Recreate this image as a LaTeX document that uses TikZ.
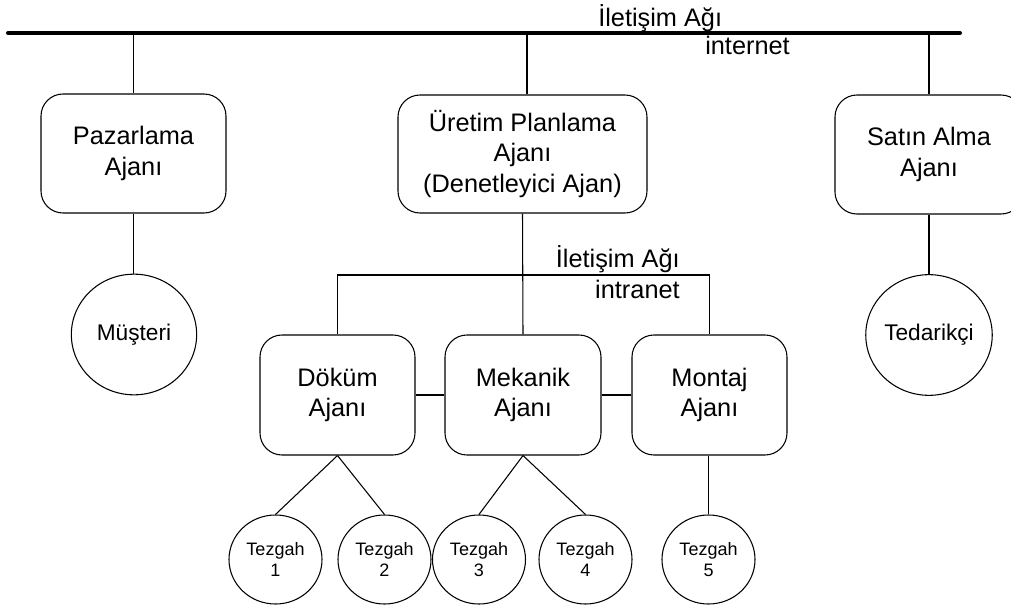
\documentclass[tikz,border=0pt]{standalone}
\usepackage{fontspec}
\setmainfont{Liberation Sans}
\usetikzlibrary{shapes.geometric}
\begin{document}
\begin{tikzpicture}[x=0.75pt,y=-0.75pt,
  agent/.style={draw, line width=0.8pt, rounded corners=16.5pt, align=center, inner sep=0pt,
    font=\fontsize{19pt}{23pt}\selectfont},
  party/.style={draw, ellipse, line width=0.8pt, inner sep=0pt, align=center,
    minimum width=94pt, minimum height=90.5pt, font=\fontsize{17pt}{20pt}\selectfont},
  bench/.style={draw, ellipse, line width=0.8pt, inner sep=0pt, align=center,
    minimum width=69.75pt, minimum height=66.75pt, font=\fontsize{13.5pt}{16pt}\selectfont},
  lbl/.style={inner sep=0pt, font=\fontsize{19pt}{23pt}\selectfont},
  link/.style={line width=0.8pt},
  busline/.style={line width=3pt, line cap=round}]
\useasboundingbox (0,0) rectangle (1011,610);

% internet bus
\coordinate (busL) at (8,33);
\coordinate (busR) at (960,33);
\coordinate (busU) at (527,33);
\draw[busline] (busL) -- (busR);
\node[lbl, anchor=base west] (net1) at (598,27) {İletişim Ağı};
\node[lbl, anchor=base west] (net2) at (705,55) {internet};

% top agents
\node[agent, minimum width=138.75pt, minimum height=89.25pt] (paz) at (133.5,153.5) {Pazarlama\\Ajanı};
\node[agent, minimum width=186.75pt, minimum height=88.5pt] (uret) at (522.5,154) {Üretim Planlama\\Ajanı\\(Denetleyici Ajan)};
\node[agent, minimum width=141pt, minimum height=89.25pt] (sat) at (929,154.5) {Satın Alma\\Ajanı};

\draw[link] (paz.north |- busL) -- (paz.north);
\draw[link] (busU) -- (busU |- uret.north);
\draw[link] (sat.north |- busL) -- (sat.north);

% customer / supplier
\node[party] (mus) at (134,334.5) {Müşteri};
\node[party] (ted) at (929,335) {Tedarikçi};
\draw[link] (paz.south) -- (paz.south |- mus.north);
\draw[link] (sat.south) -- (ted.north);

% production agents
\node[agent, minimum width=116.25pt, minimum height=90pt] (dok) at (337.5,395) {Döküm\\Ajanı};
\node[agent, minimum width=117pt, minimum height=90pt] (mek) at (523,395) {Mekanik\\Ajanı};
\node[agent, minimum width=116.25pt, minimum height=90pt] (mon) at (709.5,395) {Montaj\\Ajanı};

% intranet bus
\coordinate (ibus) at (523,275);
\draw[link] (dok.north) |- (ibus) -| (mon.north);
\draw[link] (uret.south) -- (mek.north);
\node[lbl, anchor=base east] (inet1) at (680,267) {İletişim Ağı};
\node[lbl, anchor=base east] (inet2) at (680,298) {intranet};

\draw[link] (dok.east) -- (mek.west);
\draw[link] (mek.east) -- (mon.west);

% benches
\node[bench] (t1) at (275.5,559.5) {Tezgah\\1};
\node[bench] (t2) at (384.5,559.5) {Tezgah\\2};
\node[bench] (t3) at (479,559.5) {Tezgah\\3};
\node[bench] (t4) at (585.5,559.5) {Tezgah\\4};
\node[bench] (t5) at (708.5,559.5) {Tezgah\\5};

\draw[link] (dok.south) -- (t1.north);
\draw[link] (dok.south) -- (t2.north);
\draw[link] (mek.south) -- (t3.north);
\draw[link] (mek.south) -- (t4.north);
\draw[link] (mon.south -| t5.north) -- (t5.north);
\end{tikzpicture}
\end{document}
